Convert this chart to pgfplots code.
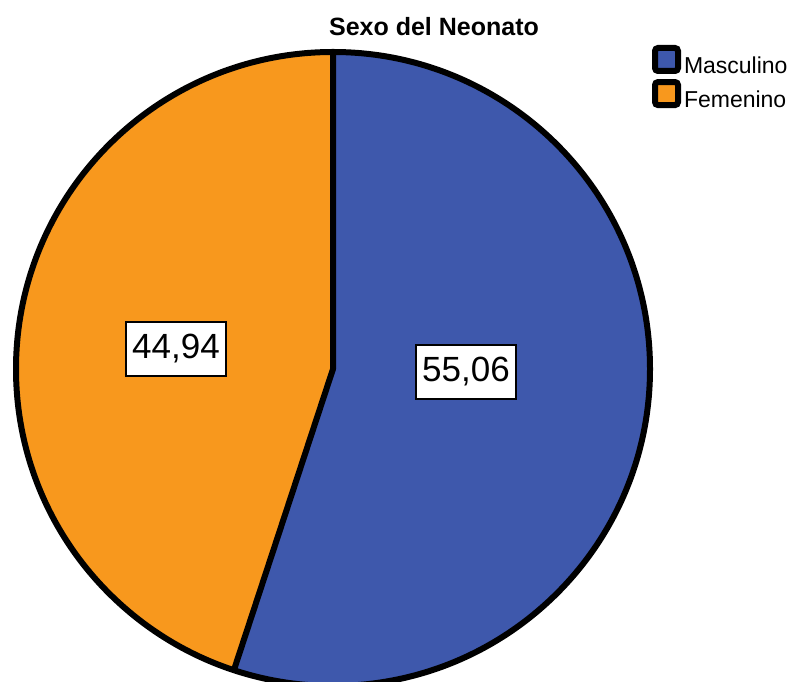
\documentclass[border=0pt]{standalone}
\usepackage{pgfplots}
\pgfplotsset{compat=1.18}
\usepackage{pgfplotstable}
\usepackage{fontspec}
\setmainfont{Liberation Sans}
\definecolor{masc}{RGB}{62,88,172}
\definecolor{fem}{RGB}{248,152,29}

% value = percentage; lx, ly = label box position (pixels, y upward)
\pgfplotstableread{
label value lx ly
Masculino 55.06 466 310
Femenino 44.94 176 333
}\piedata

\pgfplotstablegetelem{0}{value}\of\piedata \let\vA\pgfplotsretval
\pgfplotstablegetelem{1}{value}\of\piedata \let\vB\pgfplotsretval
\pgfplotstablegetelem{0}{lx}\of\piedata \let\lxA\pgfplotsretval
\pgfplotstablegetelem{0}{ly}\of\piedata \let\lyA\pgfplotsretval
\pgfplotstablegetelem{1}{lx}\of\piedata \let\lxB\pgfplotsretval
\pgfplotstablegetelem{1}{ly}\of\piedata \let\lyB\pgfplotsretval
\pgfmathsetmacro\angA{90-3.6*\vA}
\pgfmathsetmacro\angB{\angA-3.6*\vB}

\begin{document}
\begin{tikzpicture}
\path[use as bounding box] (0,0) rectangle (793bp,682bp);
\begin{axis}[
  at={(0,0)}, anchor=south west,
  scale only axis, width=793bp, height=682bp,
  xmin=0, xmax=793, ymin=0, ymax=682,
  hide axis, clip=false,
  title={Sexo del Neonato},
  title style={at={(axis cs:434,649)}, anchor=center, font=\bfseries\fontsize{25bp}{30bp}\selectfont},
  legend style={at={(axis cs:652,637)}, anchor=north west, draw=none, fill=none,
    inner sep=0pt, outer sep=0pt, font=\fontsize{23bp}{27bp}\selectfont,
    row sep=2bp, /tikz/every odd column/.append style={column sep=1bp}},
  legend cell align=left,
]
\addlegendimage{legend image code/.code={\draw[line width=6bp, rounded corners=3bp, fill=masc] (3bp,-5bp) rectangle (26bp,18bp);}}
\addlegendentry{Masculino}
\addlegendimage{legend image code/.code={\draw[line width=6bp, rounded corners=3bp, fill=fem] (3bp,-5bp) rectangle (26bp,18bp);}}
\addlegendentry{Femenino}

\fill[masc] (axis cs:333,313) -- ++(90:317bp) arc[start angle=90, end angle=\angA, radius=317bp] -- cycle;
\fill[fem] (axis cs:333,313) -- ++(\angA:317bp) arc[start angle=\angA, end angle=\angB, radius=317bp] -- cycle;
\draw[line width=6bp] (axis cs:333,313) circle[radius=317bp];
\draw[line width=6bp, line join=round] (axis cs:333,313) ++(90:317bp) -- (axis cs:333,313) -- ++(\angA:317bp);

\node[draw, line width=2.5bp, fill=white, minimum width=100bp, minimum height=54bp, inner sep=0pt,
  font=\fontsize{35bp}{40bp}\selectfont] at (axis cs:\lxA,\lyA)
  {\pgfmathprintnumber[fixed, fixed zerofill, precision=2, use comma, assume math mode=true]{\vA}};
\node[draw, line width=2.5bp, fill=white, minimum width=100bp, minimum height=54bp, inner sep=0pt,
  font=\fontsize{35bp}{40bp}\selectfont] at (axis cs:\lxB,\lyB)
  {\pgfmathprintnumber[fixed, fixed zerofill, precision=2, use comma, assume math mode=true]{\vB}};
\end{axis}
\end{tikzpicture}
\end{document}
